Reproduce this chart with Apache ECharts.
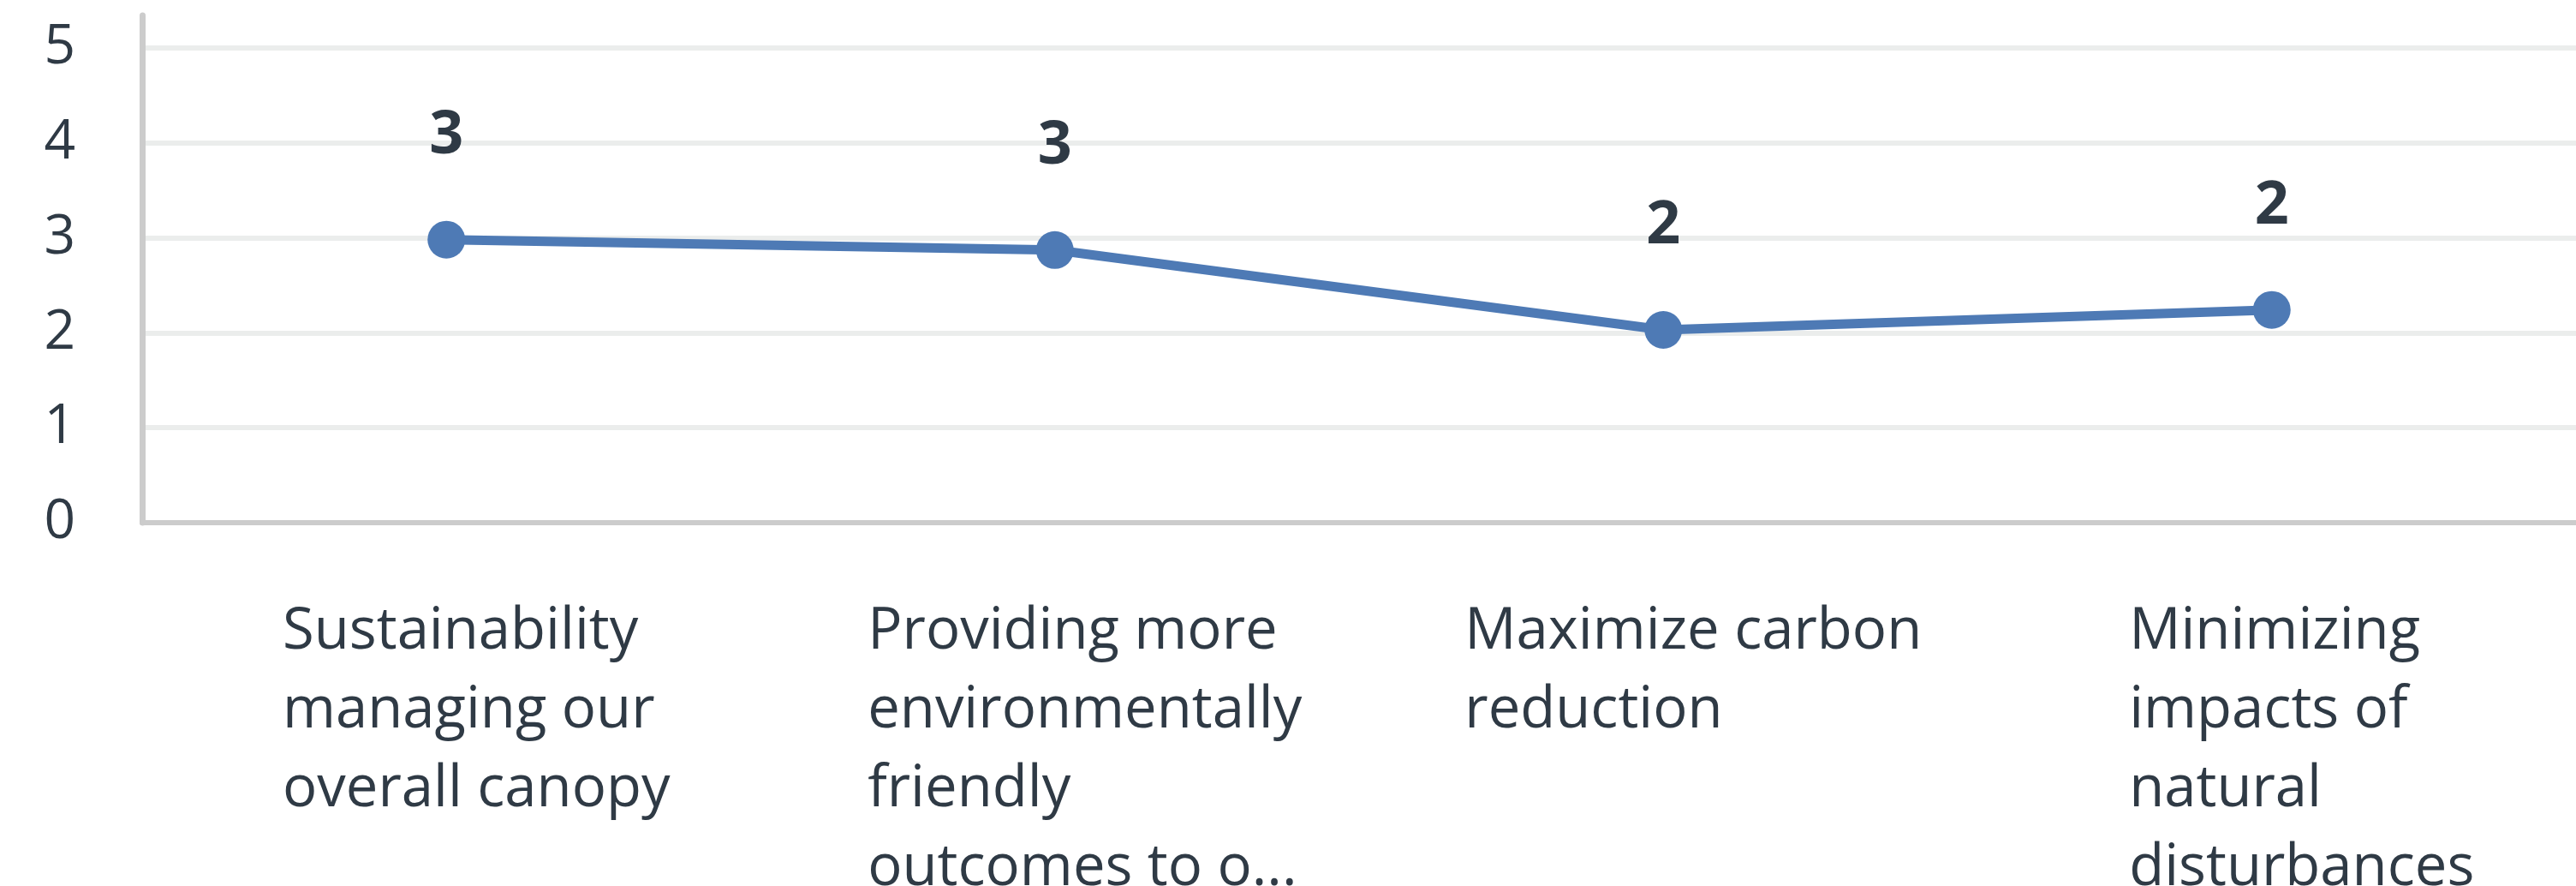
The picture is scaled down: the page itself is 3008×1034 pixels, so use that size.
<!DOCTYPE html>
<html>
<head>
<meta charset="utf-8">
<script src="https://cdn.jsdelivr.net/npm/echarts@6/dist/echarts.min.js"></script>
<style>
  html, body { margin: 0; padding: 0; background: #ffffff; }
  #chart { width: 3008px; height: 1034px; }
</style>
</head>
<body>
<div id="chart"></div>
<script>
// Category labels (as displayed, with line breaks)
const categories = [
  'Sustainability\nmanaging our\noverall canopy',
  'Providing more\nenvironmentally\nfriendly\noutcomes to o...',
  'Maximize carbon\nreduction',
  'Minimizing\nimpacts of\nnatural\ndisturbances'
];
// Average score per category
const values = [2.98, 2.87, 2.03, 2.24];
// Y axis range
const yMin = 0;
const yMax = 5.34;
const yInterval = 1;

const FONT = '"Open Sans", "Noto Sans", sans-serif';
const TEXT = '#2f3a45';
const LINE = '#4e7ab5';

const chart = echarts.init(document.getElementById('chart'), null, { renderer: 'canvas' });
chart.setOption({
  animation: false,
  backgroundColor: '#ffffff',
  grid: { left: 166, right: 0, top: 18, bottom: 424, containLabel: false, outerBoundsMode: 'none' },
  xAxis: {
    type: 'category',
    data: categories,
    boundaryGap: true,
    axisLine: { show: true, lineStyle: { color: '#cccccc', width: 6 } },
    axisTick: { show: false },
    splitLine: { show: false },
    axisLabel: {
      interval: 0,
      margin: 82,
      align: 'center',
      padding: [0, 0, 0, 70],
      color: TEXT,
      fontFamily: FONT,
      fontSize: 67,
      lineHeight: 92,
      formatter: function (v) {
        return v.split('\n').map(function (s) { return '{l|' + s + '}'; }).join('\n');
      },
      rich: {
        l: { align: 'left', color: TEXT, fontFamily: FONT, fontSize: 67, lineHeight: 92 }
      }
    }
  },
  yAxis: {
    type: 'value',
    min: yMin,
    max: yMax,
    interval: yInterval,
    axisLine: { show: true, lineStyle: { color: '#cccccc', width: 7 } },
    axisTick: { show: false },
    splitLine: {
      show: true,
      showMinLine: false,
      showMaxLine: false,
      lineStyle: { color: '#ebedec', width: 6 }
    },
    axisLabel: {
      margin: 78,
      padding: [8, 0, 0, 0],
      color: TEXT,
      fontFamily: FONT,
      fontSize: 64,
      formatter: function (v) {
        return Math.abs(v - Math.round(v)) < 1e-6 ? String(Math.round(v)) : '';
      }
    }
  },
  series: [{
    type: 'line',
    data: values,
    symbol: 'circle',
    symbolSize: 44,
    lineStyle: { color: LINE, width: 11 },
    itemStyle: { color: LINE, borderWidth: 0 },
    label: {
      show: true,
      position: 'top',
      distance: 64,
      color: TEXT,
      fontFamily: FONT,
      fontWeight: 'bold',
      fontSize: 70,
      formatter: function (p) { return String(Math.round(p.value)); }
    }
  }]
});
</script>
</body>
</html>
